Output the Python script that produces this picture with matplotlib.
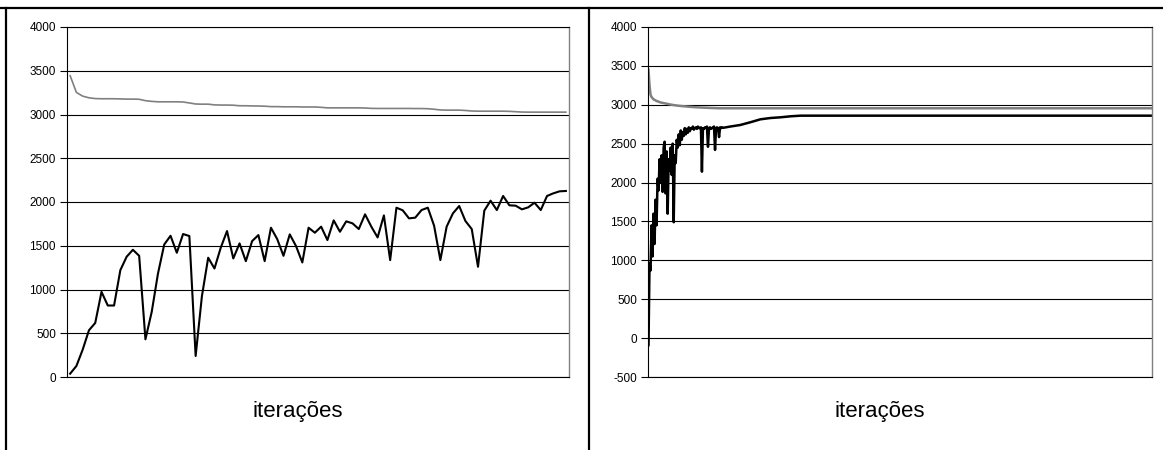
import matplotlib
matplotlib.use("Agg")
from matplotlib import pyplot as plt
from matplotlib.lines import Line2D
import numpy as np

plt.rcParams["font.family"] = ["Liberation Sans", "DejaVu Sans"]
plt.rcParams["axes.unicode_minus"] = False

# painel esquerdo: 80 iterações
left_gray = [3443, 3252, 3210, 3191, 3182, 3180, 3180, 3180, 3178, 3176,
             3176, 3174, 3158, 3150, 3145, 3145, 3145, 3145, 3143, 3132,
             3120, 3118, 3118, 3110, 3108, 3108, 3106, 3100, 3100, 3098,
             3097, 3095, 3090, 3090, 3088, 3088, 3088, 3086, 3086, 3086,
             3082, 3076, 3076, 3076, 3076, 3076, 3076, 3074, 3070, 3069,
             3069, 3069, 3069, 3069, 3069, 3068, 3068, 3066, 3060, 3052,
             3050, 3050, 3050, 3046, 3040, 3038, 3038, 3038, 3038, 3038,
             3036, 3032, 3028, 3027, 3027, 3027, 3027, 3027, 3027, 3027]
left_black = [38, 126, 313, 534, 618, 973, 817, 817, 1221, 1374,
              1454, 1385, 431, 744, 1183, 1515, 1614, 1420, 1634, 1611,
              240, 924, 1363, 1240, 1477, 1668, 1355, 1527, 1324, 1553,
              1622, 1324, 1706, 1576, 1385, 1630, 1496, 1309, 1706, 1649,
              1718, 1565, 1790, 1660, 1779, 1756, 1691, 1859, 1718, 1595,
              1847, 1336, 1935, 1905, 1813, 1821, 1908, 1935, 1729, 1336,
              1718, 1870, 1954, 1782, 1691, 1260, 1901, 2015, 1908, 2069,
              1962, 1958, 1916, 1939, 1992, 1908, 2069, 2099, 2122, 2126]

# painel direito: 500 iterações
right_n = 500
right_gray_iter = [0, 1, 2, 3, 5, 8, 12, 16, 23, 30, 40, 47, 60, 70, 499]
right_gray = [3450, 3250, 3130, 3100, 3070, 3049, 3030, 3019, 3000, 2987,
              2975, 2968, 2960, 2955, 2955]
right_black_iter = list(range(76)) + [81, 91, 101, 111, 121, 131, 141, 151, 499]
right_black = [-90, 960, 870, 1450, 1050, 1600, 1210, 1780, 1450, 2050,
               1900, 2300, 2000, 2350, 1880, 2450, 2525, 1860, 2400, 1600,
               2300, 2150, 2450, 2100, 2500, 1490, 2350, 2250, 2550, 2450,
               2620, 2480, 2670, 2550, 2650, 2600, 2700, 2620, 2690, 2640,
               2710, 2660, 2700, 2690, 2720, 2680, 2700, 2710, 2690, 2720,
               2700, 2700, 2710, 2140, 2700, 2690, 2710, 2700, 2720, 2460,
               2700, 2710, 2690, 2700, 2710, 2720, 2420, 2700, 2710, 2700,
               2585, 2710, 2700, 2710, 2705, 2706,
               2720, 2740, 2775, 2813, 2830, 2839, 2852, 2860, 2860]

W, H = 1163, 450
fig = plt.figure(figsize=(W / 100, H / 100), dpi=100)

ax1 = fig.add_axes([67 / W, 1 - 377 / H, 502 / W, 350 / H])
ax2 = fig.add_axes([648 / W, 1 - 377 / H, 504 / W, 350 / H])


def style(ax, ymin, ymax):
    ax.set_ylim(ymin, ymax)
    ax.set_yticks(np.arange(ymin, ymax + 1, 500))
    ax.set_xticks([])
    ax.grid(axis="y", color="black", linewidth=0.8)
    ax.set_axisbelow(True)
    ax.tick_params(axis="y", direction="out", length=5, width=0.8,
                   labelsize=8.5, pad=3)
    for s in ["left", "bottom", "top"]:
        ax.spines[s].set_color("black")
        ax.spines[s].set_linewidth(0.8)
    ax.spines["right"].set_color("#808080")
    ax.spines["right"].set_linewidth(1.0)


x1 = np.arange(len(left_black))
ax1.plot(x1, left_gray, color="#808080", linewidth=1.2)
ax1.plot(x1, left_black, color="black", linewidth=1.5)
ax1.set_xlim(-0.5, len(left_black) - 0.5)
style(ax1, 0, 4000)

ax2.plot(right_gray_iter, right_gray, color="#808080", linewidth=1.8)
ax2.plot(right_black_iter, right_black, color="black", linewidth=1.8)
ax2.set_xlim(-0.5, right_n - 0.5)
style(ax2, -500, 4000)

fig.text(297.5 / W, 1 - 412 / H, "iterações", ha="center", va="center", fontsize=16)
fig.text(880 / W, 1 - 412 / H, "iterações", ha="center", va="center", fontsize=16)

# moldura da tabela
for xs, ys in [([0, 1], [1 - 8 / H, 1 - 8 / H]),
               ([5.5 / W, 5.5 / W], [0, 1 - 8 / H]),
               ([588.5 / W, 588.5 / W], [0, 1 - 8 / H])]:
    fig.add_artist(Line2D(xs, ys, transform=fig.transFigure, color="black",
                          linewidth=1.6))

fig.savefig("out.png", dpi=100)
